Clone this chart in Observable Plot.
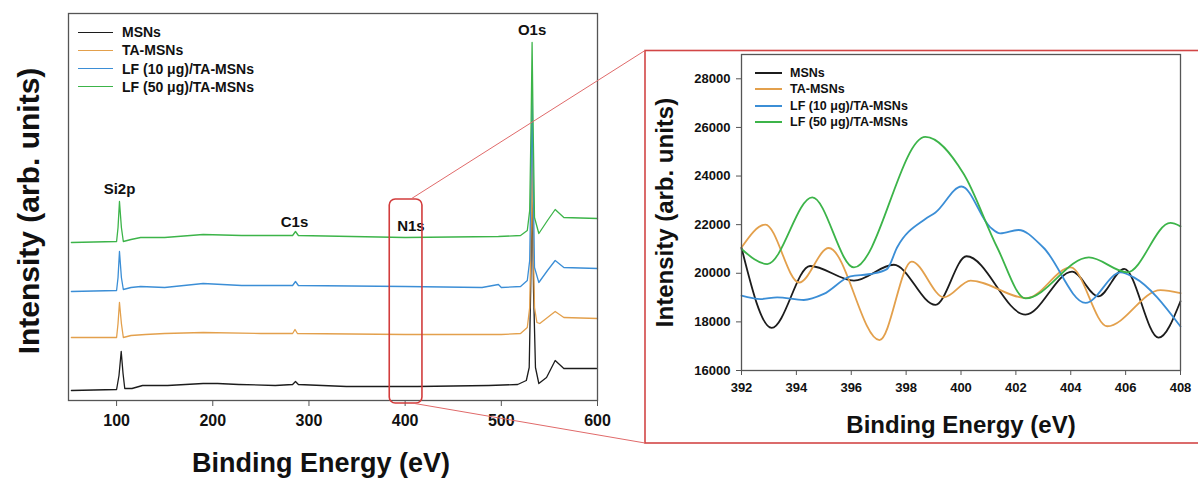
<!DOCTYPE html>
<html>
<head>
<meta charset="utf-8">
<script src="https://cdn.jsdelivr.net/npm/d3@7"></script>
<script src="https://cdn.jsdelivr.net/npm/@observablehq/plot@0.6"></script>
<style>
  body { margin: 0; background: #fff; font-family: Arial, "Liberation Sans", sans-serif; }
  #wrap { position: relative; width: 1198px; height: 482px; overflow: hidden; background: #fff; }
  #wrap svg text { font-weight: bold; }
  .panel { position: absolute; }
  .legend { position: absolute; font-weight: bold; color: #111; font-family: Arial, "Liberation Sans", sans-serif; }
  .legend .row { position: absolute; display: flex; align-items: center; white-space: nowrap; }
  .legend .sw { display: inline-block; height: 0; }
  #overlay { position: absolute; left: 0; top: 0; pointer-events: none; }
</style>
</head>
<body>
<div id="wrap"></div>
<script>
// ---------- data ----------
const seriesNames = ["MSNs", "TA-MSNs", "LF (10 μg)/TA-MSNs", "LF (50 μg)/TA-MSNs"];
const seriesColors = ["#1c1c1c", "#e3a04c", "#3b8ed6", "#3cb449"];

// survey spectra (eV, stacked intensity, arbitrary units)
const surveyMSNs = [[53,10],[100,11],[102.5,25],[104.8,49],[106.7,27],[108.5,12],[116,12],[127,15],[153,15],[190,17],[205,17],[227,16],[265,15],[283,16],[286,19],[289,16],[339,14],[413,14],[487,15],[517,16],[526,20],[529,33],[530.5,110],[532,215],[533.5,110],[535.5,33],[539,17],[547,23],[556,40],[565,32],[599,32]];
const surveyTA = [[53,63],[100,63],[101.5,77],[103,98],[105,77],[107,63],[115,65],[130,66],[150,67],[190,68],[250,67],[283,67],[285.5,71],[288,67],[400,66],[500,66],[520,67],[527,73],[529.5,93],[531,170],[532,260],[533,170],[534.5,93],[537,78],[540,77],[548,83],[556,89],[565,83],[600,82]];
const surveyLF10 = [[53,109],[100,110],[101.5,123],[103,149],[105,123],[107,111],[115,113],[125,114],[150,113],[190,117],[230,115],[283,115],[286,119],[289,115],[400,114],[480,113],[497,116],[500,113],[520,114],[527,120],[529.5,140],[531,230],[532,305],[533,230],[534.5,133],[539,118],[548,130],[556,140],[565,133],[600,132]];
const surveyLF50 = [[53,158],[100,159],[101.5,173],[103,199],[105,173],[107,159],[115,161],[125,163],[150,163],[190,166],[230,165],[283,165],[286,169],[289,165],[400,163],[497,164],[520,165],[527,170],[529.5,190],[531,280],[532,358],[533,280],[534.5,183],[539,167],[548,180],[556,191],[565,183],[600,182]];

const peakLabels = [
  {name: "Si2p", ev: 103, level: 211},
  {name: "C1s", ev: 285, level: 178},
  {name: "N1s", ev: 406, level: 174},
  {name: "O1s", ev: 532, level: 370}
];
const zoomBox = {x1: 384, x2: 418, y1: -3, y2: 201};

const leftXTicks = [100, 200, 300, 400, 500, 600];

// N1s high-resolution region (eV, intensity)
const n1sMSNs = [[392,21050],[393.1,17750],[394.5,20300],[396.1,19700],[397.55,20350],[399.07,18700],[400.2,20700],[402.35,18300],[404.05,20070],[405.0,19050],[405.95,20180],[407.2,17350],[408,18850]];
const n1sTA = [[392,21060],[392.87,22000],[394.1,19620],[395.18,21040],[397.03,17250],[398.2,20480],[399.38,19010],[400.35,19700],[402.4,18980],[404.0,20240],[405.33,17820],[407.27,19310],[408,19180]];
const n1sLF10 = [[392,19080],[392.7,18940],[393.3,19010],[394.27,18900],[395,19150],[395.97,19870],[396.7,19970],[397.3,20170],[397.67,21060],[398.7,22230],[399.07,22500],[400.02,23570],[401.07,21890],[401.43,21640],[402.1,21780],[403.0,21060],[404.54,18780],[405.82,20040],[406.3,19830],[408,17810]];
const n1sLF50 = [[392,21000],[392.94,20380],[394.58,23120],[396.1,20240],[398.7,25610],[400.1,24080],[401.32,21060],[402.35,18970],[404.66,20650],[406.06,20040],[407.63,22070],[408,21930]];

const rightXTicks = [392, 394, 396, 398, 400, 402, 404, 406, 408];
const rightYTicks = [16000, 18000, 20000, 22000, 24000, 26000, 28000];

// ---------- build ----------
const FONT = "Arial, 'Liberation Sans', sans-serif";
const wrap = document.getElementById("wrap");
const surveys = [surveyMSNs, surveyTA, surveyLF10, surveyLF50];
const n1s = [n1sMSNs, n1sTA, n1sLF10, n1sLF50];

const left = Plot.plot({
  width: 620, height: 482,
  marginLeft: 68, marginRight: 23, marginTop: 13, marginBottom: 82,
  x: {domain: [50, 600], axis: null},
  y: {domain: [0, 387], axis: null},
  style: {fontFamily: FONT, background: "transparent", color: "#111", overflow: "visible"},
  marks: [
    ...surveys.map((s, i) => Plot.line(s, {x: d => d[0], y: d => d[1], stroke: seriesColors[i], strokeWidth: 1.3})),
    Plot.frame({stroke: "#555", strokeWidth: 1.3}),
    Plot.axisX({ticks: leftXTicks, tickSize: 6, tickPadding: 8, fontSize: 16, fontWeight: "bold", stroke: "#555", label: null, tickFormat: d => String(d)}),
    Plot.text(peakLabels, {x: "ev", y: "level", text: "name", fontSize: 15, fontWeight: "bold", fill: "#111"}),
    Plot.rect([zoomBox], {x1: "x1", x2: "x2", y1: "y1", y2: "y2", fill: "none", stroke: "#d23c3c", strokeWidth: 1.6, rx: 6}),
    Plot.text(["Binding Energy (eV)"], {frameAnchor: "bottom", lineAnchor: "middle", textAnchor: "middle", dy: 63, dx: -12, fontSize: 27, fontWeight: "bold", fill: "#111"}),
    Plot.text(["Intensity (arb. units)"], {frameAnchor: "left", lineAnchor: "middle", textAnchor: "middle", dx: -39, dy: 4, rotate: -90, fontSize: 30, fontWeight: "bold", fill: "#111"})
  ]
});
left.classList.add("panel");
left.style.left = "0px"; left.style.top = "0px";
wrap.appendChild(left);

const right = Plot.plot({
  width: 553, height: 393,
  marginLeft: 96, marginRight: 18, marginTop: 4, marginBottom: 73,
  x: {domain: [392, 408], axis: null},
  y: {domain: [16000, 29000], axis: null},
  style: {fontFamily: FONT, background: "transparent", color: "#111", overflow: "visible"},
  marks: [
    ...n1s.map((s, i) => Plot.line(s, {x: d => d[0], y: d => d[1], stroke: seriesColors[i], strokeWidth: 1.8, curve: "monotone-x"})),
    Plot.frame({stroke: "#555", strokeWidth: 1.3}),
    Plot.axisX({ticks: rightXTicks, tickSize: 5, tickPadding: 7, fontSize: 13, fontWeight: "bold", stroke: "#555", label: null, tickFormat: d => String(d)}),
    Plot.axisY({ticks: rightYTicks, tickSize: 5, tickPadding: 6, fontSize: 13, fontWeight: "bold", stroke: "#555", label: null, tickFormat: d => String(d)}),
    Plot.text(["Binding Energy (eV)"], {frameAnchor: "bottom", lineAnchor: "middle", textAnchor: "middle", dy: 55, fontSize: 24, fontWeight: "bold", fill: "#111"}),
    Plot.text(["Intensity (arb. units)"], {frameAnchor: "left", lineAnchor: "middle", textAnchor: "middle", dx: -76, rotate: -90, fontSize: 24, fontWeight: "bold", fill: "#111"})
  ]
});
right.classList.add("panel");
right.style.left = "645px"; right.style.top = "50px";
wrap.appendChild(right);

// legends
function legend(x, y0, step, lineLen, gap, fontSize, lw) {
  const div = document.createElement("div");
  div.className = "legend";
  div.style.left = x + "px"; div.style.top = "0px";
  div.style.fontSize = fontSize + "px";
  seriesNames.forEach((name, i) => {
    const row = document.createElement("div");
    row.className = "row";
    row.style.left = "0px";
    row.style.top = (y0 + i * step - 10) + "px";
    row.style.height = "20px";
    const sw = document.createElement("span");
    sw.className = "sw";
    sw.style.width = lineLen + "px";
    sw.style.borderTop = lw + "px solid " + seriesColors[i];
    sw.style.marginRight = gap + "px";
    const t = document.createElement("span");
    t.textContent = name;
    row.appendChild(sw); row.appendChild(t);
    div.appendChild(row);
  });
  wrap.appendChild(div);
}
legend(78, 32, 18.3, 35, 9, 14, 1.5);
legend(755, 73, 16.4, 27, 8, 12.5, 2);

// overlay: zoom frame and connectors, computed from the left panel's scales
const sx = left.scale("x"), sy = left.scale("y");
const ov = d3.select(wrap).append("svg").attr("id", "overlay").attr("width", 1198).attr("height", 482);
const frameL = 645, frameT = 50.5, frameB = 443;
ov.append("rect").attr("x", frameL).attr("y", frameT).attr("width", 600).attr("height", frameB - frameT)
  .attr("fill", "none").attr("stroke", "#d24646").attr("stroke-width", 1.6);
ov.append("line").attr("x1", sx.apply(406.5)).attr("y1", sy.apply(zoomBox.y2)).attr("x2", frameL).attr("y2", frameT)
  .attr("stroke", "#e06a6a").attr("stroke-width", 1);
ov.append("line").attr("x1", sx.apply(407.5)).attr("y1", sy.apply(zoomBox.y1)).attr("x2", frameL).attr("y2", frameB)
  .attr("stroke", "#e06a6a").attr("stroke-width", 1);
</script>
</body>
</html>
